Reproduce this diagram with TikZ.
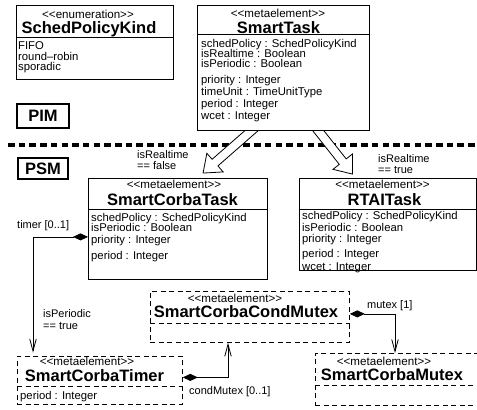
\documentclass[tikz,border=0pt]{standalone}
\usepackage{fontspec}
\setmainfont{Liberation Sans}
\usetikzlibrary{arrows.meta,shapes.arrows,backgrounds}

\tikzset{
  cls/.style={draw, line width=0.8pt, fill=white, inner sep=0pt, anchor=north west},
  dcls/.style={cls, dash pattern=on 5pt off 3.5pt},
  stereo/.style={inner sep=0pt, anchor=base, font=\fontsize{11.6}{11}\selectfont},
  cname/.style={inner sep=0pt, anchor=base, font=\fontsize{16.5}{16}\selectfont\bfseries},
  attrs/.style={inner sep=0pt, anchor=north west, align=left, font=\fontsize{11.3}{12}\selectfont},
  lbl/.style={inner sep=0pt, align=left, font=\fontsize{11}{11.5}\selectfont},
  model/.style={draw, line width=2pt, inner sep=0pt, anchor=north west, font=\fontsize{16.5}{16}\selectfont\bfseries},
  comp/.style={line width=0.8pt, {Diamond[length=15pt,width=7pt]}-{Straight Barb[length=12pt,width=6.5pt]}},
  fatarrow/.style={single arrow, draw, fill=white, line width=0.8pt, inner xsep=0pt, inner ysep=4pt,
    single arrow head extend=8pt, single arrow tip angle=76, anchor=tail},
}

\begin{document}
\begin{tikzpicture}[x=1pt,y=-1pt]
\useasboundingbox (0,0) rectangle (477,410);

% enumeration
\node[cls, minimum width=157, minimum height=74] (kind) at (16,5) {};
\draw[line width=0.8pt] ([yshift=-32]kind.north west) -- ([yshift=-32]kind.north east);
\node[stereo] (kindS) at (88,18) {<{}<enumeration>{}>};
\node[cname] (kindN) at (89,33.3) {SchedPolicyKind};
\node[attrs] (kindA) at (18,41.1) {FIFO\\[-1pt]round--robin\\[-1.5pt]sporadic};

% PIM metaelement
\node[cls, minimum width=172, minimum height=125] (task) at (197,5) {};
\draw[line width=0.8pt] ([yshift=-29]task.north west) -- ([yshift=-29]task.north east);
\node[stereo] (taskS) at (278,17) {<{}<metaelement>{}>};
\node[cname] (taskN) at (278.5,33) {SmartTask};
\node[attrs] (taskA) at (201,39.3) {schedPolicy : SchedPolicyKind\\[-2pt]isRealtime : Boolean\\[-2pt]isPeriodic : Boolean\\[3.5pt]priority : Integer\\[0.7pt]timeUnit : TimeUnitType\\period : Integer\\wcet : Integer};

\node[model, minimum width=52, minimum height=24] (pim) at (16,103) {PIM};
\node[model, minimum width=50, minimum height=21] (psm) at (17,157) {PSM};

% level line and refinements, kept under the boxes
\begin{scope}[on background layer]
\draw[line width=3.2pt, dash pattern=on 6.5pt off 4.2pt] (8,145) -- (477,145);
\node[fatarrow, minimum height=71.8, rotate=221.2] (genA) at ([xshift=-26,yshift=5.3]task.south) {};
\node[fatarrow, minimum height=62.8, rotate=-51.7] (genB) at ([xshift=30,yshift=6.3]task.south) {};
\end{scope}

\node[lbl, anchor=north west] (rtF) at (137,150) {isRealtime\\== false};
\node[lbl, anchor=north west] (rtT) at (378,154) {isRealtime\\== true};

% PSM metaelements
\node[cls, minimum width=179, minimum height=101] (ctask) at (88,178) {};
\draw[line width=0.8pt] ([yshift=-31]ctask.north west) -- ([yshift=-31]ctask.north east);
\node[stereo] (ctaskS) at (174,188) {<{}<metaelement>{}>};
\node[cname] (ctaskN) at (172.5,205) {SmartCorbaTask};
\node[attrs] (ctaskA) at (91,213.3) {schedPolicy : SchedPolicyKind\\[-2pt]isPeriodic : Boolean\\[0.3pt]priority : Integer\\[3.3pt]period : Integer};

\node[cls, minimum width=176.5, minimum height=92] (rtask) at (299,178) {};
\draw[line width=0.8pt] ([yshift=-31]rtask.north west) -- ([yshift=-31]rtask.north east);
\node[stereo] (rtaskS) at (382.5,188) {<{}<metaelement>{}>};
\node[cname] (rtaskN) at (384.5,205) {RTAITask};
\node[attrs] (rtaskA) at (302,211.3) {schedPolicy : SchedPolicyKind\\isPeriodic : Boolean\\[-1pt]priority : Integer\\[3pt]period : Integer\\[0.5pt]wcet : Integer};

\node[dcls, minimum width=199, minimum height=51] (cmutex) at (150,291) {};
\draw[line width=0.8pt, dash pattern=on 5pt off 3.5pt] ([yshift=-32]cmutex.north west) -- ([yshift=-32]cmutex.north east);
\node[stereo] (cmutexS) at (235,302) {<{}<metaelement>{}>};
\node[cname] (cmutexN) at (246,317) {SmartCorbaCondMutex};

\node[dcls, minimum width=165, minimum height=48] (timer) at (17,356) {};
\draw[line width=0.8pt, dash pattern=on 5pt off 3.5pt] ([yshift=-30]timer.north west) -- ([yshift=-30]timer.north east);
\node[stereo] (timerS) at (87,365) {<{}<metaelement>{}>};
\node[cname] (timerN) at (94.5,381) {SmartCorbaTimer};
\node[attrs] (timerA) at (20,390.8) {period : Integer};

\node[dcls, minimum width=175, minimum height=52] (mutex) at (315,353) {};
\draw[line width=0.8pt, dash pattern=on 5pt off 3.5pt] ([yshift=-32]mutex.north west) -- ([yshift=-32]mutex.north east);
\node[stereo] (mutexS) at (384,365) {<{}<metaelement>{}>};
\node[cname] (mutexN) at (392,380) {SmartCorbaMutex};

% compositions
\draw[comp, shorten >=3.5pt] ([yshift=-8]ctask.west) -| ([xshift=16]timer.north west);
\node[lbl, anchor=base west] (timerL) at (17,228) {timer [0..1]};
\node[lbl, anchor=north west] (perL) at (43,309) {isPeriodic\\[1pt]== true};

\draw[comp] ([yshift=3]timer.east) -| ([xshift=78]cmutex.south west);
\node[lbl, anchor=base west] (cmL) at (189,394) {condMutex [0..1]};

\draw[comp] ([yshift=3]cmutex.east) -| ([xshift=80]mutex.north west);
\node[lbl, anchor=base west] (mxL) at (367,308) {mutex [1]};
\end{tikzpicture}
\end{document}
